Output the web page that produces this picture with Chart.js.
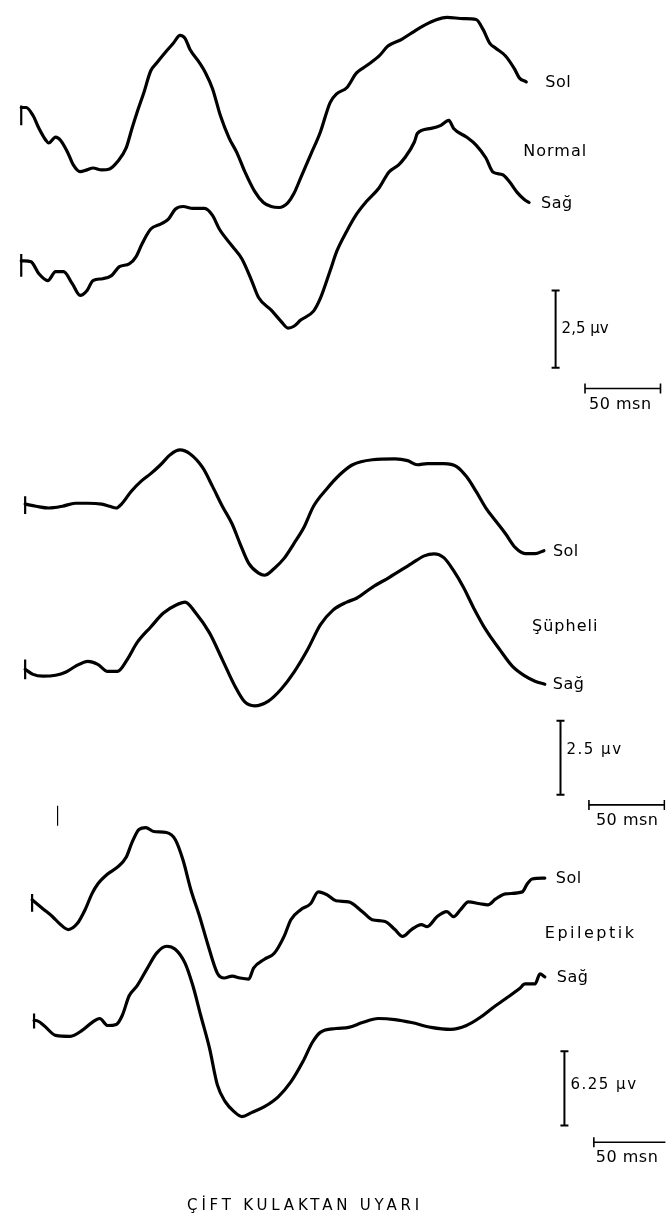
<!DOCTYPE html>
<html>
<head>
<meta charset="utf-8">
<script src="https://cdn.jsdelivr.net/npm/chart.js@4.4.1/dist/chart.umd.min.js"></script>
<style>
  html, body { margin: 0; padding: 0; background: #fff; }
</style>
</head>
<body>
<canvas id="c" width="672" height="1221"></canvas>
<script>
// Each trace: [time in msec, amplitude in µV relative to start of trace]
const normalSol = [[1.9,0],[5.2,0],[9.7,-0.26],[13.6,-0.67],[18.2,-1.06],[20.1,-1.15],[24.7,-0.96],[27.9,-1.06],
  [32.5,-1.44],[36.4,-1.86],[40.9,-2.08],[45.5,-2.02],[49.4,-1.96],[55.2,-2.02],[60.4,-1.99],[65.6,-1.76],
  [71.4,-1.31],[75.3,-0.67],[78.6,-0.16],[83.1,0.48],[87.7,1.19],[91.6,1.44],[98.1,1.83],[102.6,2.08],
  [107.1,2.34],[110.4,2.24],[113.6,1.89],[120.1,1.44],[124.0,1.12],[128.6,0.61],[133.8,-0.26],[139.6,-0.99],
  [144.8,-1.47],[150.0,-2.08],[156.5,-2.72],[162.3,-3.08],[167.5,-3.21],[172.7,-3.24],[178.6,-3.08],[182.5,-2.79],
  [187.0,-2.28],[193.5,-1.54],[200.0,-0.80],[206.5,0.16],[211.0,0.45],[217.5,0.64],[224.0,1.12],[230.5,1.35],
  [239.0,1.67],[244.8,1.99],[253.9,2.21],[262.3,2.47],[268.8,2.66],[277.3,2.85],[283.8,2.92],[294.8,2.88],
  [303.2,2.85],[307.8,2.53],[312.3,2.08],[316.2,1.92],[322.7,1.67],[328.6,1.25],[331.8,0.96],[336.4,0.83]];

const normalSag = [[1.9,0],[3.9,0],[8.4,-0.03],[13.6,-0.42],[19.5,-0.64],[24.7,-0.35],[29.9,-0.35],[35.7,-0.74],
  [40.9,-1.12],[45.5,-0.96],[49.4,-0.64],[55.8,-0.58],[61.7,-0.48],[66.9,-0.19],[73.4,-0.10],[77.9,0.13],
  [81.8,0.54],[87.7,1.03],[94.2,1.19],[99.4,1.35],[103.9,1.67],[109.1,1.76],[115.6,1.70],[123.4,1.70],
  [128.6,1.47],[133.1,1.03],[141.6,0.48],[148.1,0.06],[154.5,-0.64],[159.1,-1.19],[167.5,-1.60],[174.0,-1.96],
  [178.6,-2.18],[182.5,-2.12],[187.0,-1.92],[195.5,-1.63],[200.0,-1.22],[206.5,-0.32],[211.0,0.32],[217.5,0.96],
  [224.0,1.51],[230.5,1.92],[239.0,2.37],[245.5,2.88],[251.9,3.11],[255.8,3.33],[262.3,3.85],[264.3,4.13],
  [273.4,4.29],[279.9,4.39],[285.1,4.55],[288.3,4.29],[296.8,4.01],[303.2,3.75],[309.7,3.33],[314.3,2.88],
  [320.8,2.79],[325.3,2.56],[330.5,2.21],[335.1,1.99],[338.3,1.89]];

const suspectSol = [[4.5,0],[11.7,-0.07],[20.1,-0.13],[29.2,-0.07],[37.7,0.03],[46.1,0.03],[55.2,0],[60.4,-0.07],
  [64.9,-0.13],[68.8,0.03],[74.7,0.43],[81.2,0.77],[87.7,1.03],[94.2,1.33],[100.6,1.67],[107.1,1.83],
  [113.6,1.70],[122.1,1.23],[128.6,0.60],[135.1,-0.07],[141.6,-0.67],[146.8,-1.33],[152.6,-2.00],[159.1,-2.33],
  [163.0,-2.40],[169.5,-2.17],[176.0,-1.83],[182.5,-1.33],[189.0,-0.80],[195.5,-0.07],[204.5,0.53],[213.0,1.00],
  [221.4,1.33],[234.4,1.50],[249.4,1.53],[257.8,1.47],[264.3,1.33],[270.8,1.37],[281.8,1.37],[290.3,1.27],
  [296.8,0.93],[303.2,0.43],[309.7,-0.13],[316.2,-0.57],[322.7,-1.00],[329.2,-1.47],[335.7,-1.67],[342.2,-1.67],
  [348.1,-1.57]];

const suspectSag = [[4.5,0],[9.7,-0.17],[16.2,-0.23],[24.7,-0.20],[31.2,-0.10],[37.7,0.10],[46.1,0.27],[52.6,0.17],
  [59.1,-0.07],[65.6,-0.07],[72.1,0.33],[78.6,0.90],[87.7,1.43],[96.1,1.90],[104.5,2.17],[110.4,2.27],
  [117.5,1.90],[126.6,1.23],[135.1,0.33],[143.5,-0.57],[150.0,-1.10],[156.5,-1.23],[165.6,-1.07],[174.0,-0.67],
  [182.5,-0.10],[191.6,0.67],[200.0,1.50],[208.4,2.00],[217.5,2.27],[224.0,2.40],[234.4,2.77],[245.5,3.10],
  [260.4,3.57],[268.8,3.83],[275.3,3.90],[281.8,3.77],[288.3,3.33],[294.8,2.77],[301.3,2.10],[309.7,1.33],
  [318.8,0.67],[327.3,0.10],[335.7,-0.23],[342.2,-0.40],[348.7,-0.50]];

const epilepticSol = [[9.1,0],[16.2,-0.75],[22.7,-1.42],[27.9,-2.08],[33.1,-2.50],[39.0,-2.00],[44.2,-0.83],
  [48.7,0.50],[52.6,1.33],[59.1,2.17],[65.6,2.75],[71.4,3.58],[75.3,4.83],[79.9,5.92],[84.4,6.08],[89.6,5.75],
  [98.1,5.67],[103.9,5.08],[109.1,3.33],[114.3,0.83],[120.1,-1.42],[125.3,-3.67],[131.8,-6.17],[136.4,-6.58],
  [141.6,-6.42],[146.8,-6.58],[152.6,-6.67],[155.8,-5.75],[163.0,-5.00],[169.5,-4.50],[176.0,-3.08],[180.5,-1.67],
  [187.0,-0.83],[193.5,-0.33],[198.7,0.67],[204.5,0.42],[210.4,-0.08],[218.8,-0.17],[227.9,-1.00],[234.4,-1.67],
  [242.9,-1.83],[249.4,-2.50],[254.5,-3.08],[260.4,-2.50],[266.9,-2.08],[270.8,-2.25],[277.3,-1.42],[283.8,-1.00],
  [288.3,-1.42],[292.9,-0.83],[298.1,-0.17],[305.8,-0.33],[311.0,-0.42],[316.2,0.08],[322.7,0.50],[333.8,0.67],
  [337.0,1.33],[340.3,1.75],[348.7,1.83]];

const epilepticSag = [[10.4,0],[11.7,0],[16.9,-0.42],[24.7,-1.25],[34.4,-1.33],[42.2,-0.83],[48.7,-0.17],[53.9,0.17],
  [59.1,-0.42],[64.9,-0.33],[68.8,0.42],[73.4,2.08],[78.6,2.92],[85.1,4.33],[91.6,5.67],[98.1,6.25],[103.9,6.00],
  [110.4,4.83],[115.6,2.92],[120.8,0.42],[126.6,-2.33],[131.8,-5.42],[137.0,-6.83],[142.9,-7.67],[148.1,-8.08],
  [154.5,-7.75],[163.0,-7.25],[172.1,-6.42],[180.5,-5.17],[188.3,-3.50],[194.8,-1.83],[200.0,-1.00],[210.4,-0.67],
  [218.8,-0.58],[227.9,-0.17],[238.3,0.17],[249.4,0.08],[260.4,-0.17],[273.4,-0.58],[286.4,-0.75],[296.8,-0.42],
  [305.8,0.25],[314.3,1.08],[322.7,1.83],[331.8,2.67],[335.7,3.08],[342.2,3.08],[345.5,3.92],[348.7,3.67]];

const traceNames = ['Sol', 'Sağ'];
const groupNames = ['Normal', 'Şüpheli', 'Epileptik'];
const ampCal = [2.5, 2.5, 6.25];          // µV
const ampLabels = ['2,5 µv', '2.5 µv', '6.25 µv'];
const timeCal = 50;                        // msec
const timeLabel = '50 msn';
const title = 'ÇİFT KULAKTAN UYARI';

// ---- layout (page pixels) ----
const W = 672, H = 1221;
const PX_MS = 1.54;      // px per msec
const PX_UNIT = 31.2;    // px per display unit (= 1 µV at gain 1)
const X0 = 12;

const toT = px => (px - X0) / PX_MS;
const toY = px => -px / PX_UNIT;

const panels = [
  { traces: [normalSol, normalSag], gain: 1.0, rows: [102, 257], ticks: [[2, 18], [7, 16]], gaps: [19, 12],
    group: [527, 147], groupSpacing: 1, amp: [560, 287], ampLabelDy: 0, time: [590, 386], timeLabelDx: 4 },
  { traces: [suspectSol, suspectSag], gain: 0.96, rows: [503, 670], ticks: [[8, 10], [10, 10]], gaps: [9, 8],
    group: [536, 627], groupSpacing: 1, amp: [565, 722], ampLabelDy: -8, time: [594, 807], timeLabelDx: 7 },
  { traces: [epilepticSol, epilepticSag], gain: 0.385, rows: [903, 1025], ticks: [[6, 12], [7, 8]], gaps: [11, 12],
    group: [549, 937], groupSpacing: 2.5, amp: [569, 1056], ampLabelDy: -3, time: [599, 1148], timeLabelDx: 2 }
];
const strayMark = [52, 808, 828];

const lineStyle = {
  borderColor: '#000', borderWidth: 3.2, pointRadius: 0, cubicInterpolationMode: 'monotone',
  borderCapStyle: 'round', borderJoinStyle: 'round', fill: false
};

const datasets = [];
const ends = [];
panels.forEach((p, pi) => {
  p.traces.forEach((tr, ri) => {
    const base = toY(p.rows[ri]);
    datasets.push(Object.assign({
      data: tr.map(d => ({ x: d[0], y: base + d[1] * p.gain }))
    }, lineStyle));
    const t0 = tr[0][0];
    datasets.push({
      data: [{ x: t0, y: base + p.ticks[ri][0] / PX_UNIT }, { x: t0, y: base - p.ticks[ri][1] / PX_UNIT }],
      borderColor: '#000', borderWidth: 2.2, pointRadius: 0, tension: 0
    });
    const last = tr[tr.length - 1];
    ends.push({ x: last[0], y: base + last[1] * p.gain, gap: p.gaps[ri], text: traceNames[ri] });
  });
  // amplitude calibration
  const at = toT(p.amp[0]), atop = toY(p.amp[1]);
  datasets.push({
    data: [{ x: at, y: atop }, { x: at, y: atop - ampCal[pi] * p.gain }],
    borderColor: '#000', borderWidth: 2, tension: 0,
    pointStyle: 'line', pointRadius: 4, pointBorderWidth: 2, pointBorderColor: '#000'
  });
  // time calibration
  const tt = toT(p.time[0]), ty = toY(p.time[1]);
  datasets.push({
    data: [{ x: tt, y: ty }, { x: tt + timeCal, y: ty }],
    borderColor: '#000', borderWidth: 1.6, tension: 0,
    pointStyle: 'line', pointRotation: 90, pointRadius: 5, pointBorderWidth: 1.6, pointBorderColor: '#000'
  });
});
datasets.push({
  data: [{ x: toT(strayMark[0]), y: toY(strayMark[1]) }, { x: toT(strayMark[0]), y: toY(strayMark[2]) }],
  borderColor: '#000', borderWidth: 1.2, pointRadius: 0, tension: 0
});

const textPlugin = {
  id: 'texts',
  afterDraw(chart) {
    const { ctx, scales: { x, y } } = chart;
    ctx.save();
    ctx.fillStyle = '#000';
    ctx.textBaseline = 'middle';
    ctx.textAlign = 'left';
    ctx.font = '16px "DejaVu Sans"';
    ctx.letterSpacing = '0.5px';
    ends.forEach(e => {
      ctx.fillText(e.text, x.getPixelForValue(e.x) + e.gap, y.getPixelForValue(e.y) + 1);
    });
    panels.forEach((p, pi) => {
      ctx.font = '16px "DejaVu Sans"';
      ctx.letterSpacing = p.groupSpacing + 'px';
      ctx.fillText(groupNames[pi], x.getPixelForValue(toT(p.group[0])), y.getPixelForValue(toY(p.group[1])));

      ctx.font = '15px "DejaVu Sans"';
      ctx.letterSpacing = pi === 0 ? '0px' : '1.5px';
      const ax = x.getPixelForValue(toT(p.amp[0]));
      const ayTop = y.getPixelForValue(toY(p.amp[1]));
      const ayBot = y.getPixelForValue(toY(p.amp[1]) - ampCal[pi] * p.gain);
      ctx.fillText(ampLabels[pi], ax + 6, (ayTop + ayBot) / 2 + p.ampLabelDy);

      ctx.font = '16px "DejaVu Sans"';
      ctx.letterSpacing = '0.5px';
      const tx = x.getPixelForValue(toT(p.time[0]));
      const ty = y.getPixelForValue(toY(p.time[1]));
      ctx.fillText(timeLabel, tx + p.timeLabelDx, ty + 16);
    });
    ctx.font = '15px "DejaVu Sans"';
    ctx.letterSpacing = '3.8px';
    ctx.textAlign = 'center';
    ctx.fillText(title, 305, 1206);
    ctx.restore();
  }
};

new Chart(document.getElementById('c').getContext('2d'), {
  type: 'line',
  data: { datasets: datasets },
  options: {
    responsive: false,
    animation: false,
    devicePixelRatio: 1,
    layout: { padding: 0 },
    plugins: { legend: { display: false }, tooltip: { enabled: false } },
    scales: {
      x: { type: 'linear', min: toT(0), max: toT(W), display: false },
      y: { type: 'linear', min: toY(H), max: 0, display: false }
    }
  },
  plugins: [textPlugin]
});
</script>
</body>
</html>
